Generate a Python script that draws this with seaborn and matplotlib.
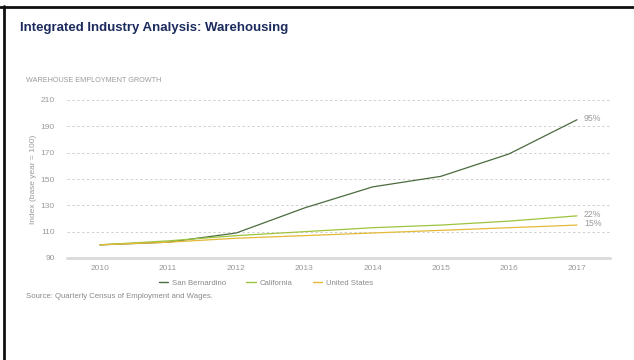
import numpy as np
import pandas as pd
import matplotlib
matplotlib.use("Agg")
import matplotlib.pyplot as plt
import seaborn as sns
from matplotlib.lines import Line2D

years = [2010, 2011, 2012, 2013, 2014, 2015, 2016, 2017]
san_bernardino = [100, 102, 109, 128, 144, 152, 169, 195]
california = [100, 103, 107, 110, 113, 115, 118, 122]
united_states = [100, 102, 105, 107, 109, 111, 113, 115]
series_names = ["San Bernardino", "California", "United States"]
end_labels = ["95%", "22%", "15%"]
y_ticks = [90, 110, 130, 150, 170, 190, 210]

colors = ["#4b6b3f", "#9dc43c", "#e3b935"]
grey_text = "#9a9a9a"

df = pd.DataFrame({
    "year": years * 3,
    "value": san_bernardino + california + united_states,
    "series": sum([[n] * len(years) for n in series_names], []),
})

sns.set_theme(style="white")
plt.rcParams["font.family"] = ["Liberation Sans", "DejaVu Sans"]

fig = plt.figure(figsize=(6.34, 3.6), dpi=100)
ax = fig.add_axes([67 / 634, 1 - 258 / 360, (610 - 67) / 634, (258 - 100) / 360])

sns.lineplot(data=df, x="year", y="value", hue="series", hue_order=series_names,
             palette=colors, linewidth=0.9, ax=ax, legend=False)

ax.set_xlim(2009.516, 2017.484)
ax.set_ylim(90, 210)
ax.set_yticks(y_ticks)
ax.set_xticks(years)
ax.set_xticklabels([str(y) for y in years])
for v in y_ticks[1:]:
    ax.axhline(v, color="#d0d0d0", linewidth=0.7, linestyle=(0, (2.5, 2.5)), zorder=0)
ax.axhline(90, color="#dcdcdc", linewidth=2.2, zorder=0, clip_on=False)
for s in ax.spines.values():
    s.set_visible(False)
ax.tick_params(axis="both", length=0, labelsize=6, colors=grey_text)
ax.tick_params(axis="y", pad=9)
ax.tick_params(axis="x", pad=5)
ax.set_xlabel("")
ax.set_ylabel("Index (base year = 100)", fontsize=6, color=grey_text, labelpad=2)

finals = [san_bernardino[-1], california[-1], united_states[-1]]
for val, lab in zip(finals, end_labels):
    ax.annotate(lab, xy=(years[-1], val), xytext=(5, 1), textcoords="offset points",
                fontsize=6.3, color=grey_text, va="center", ha="left")

handles = [Line2D([0], [0], color=c, linewidth=1.0) for c in colors]
fig.legend(handles, series_names, loc="center", bbox_to_anchor=(266 / 634, 1 - 283 / 360),
           ncol=3, frameon=False, fontsize=5.6, labelcolor="#8a8a8a",
           handlelength=1.2, handletextpad=0.5, columnspacing=2.6)

fig.text(20 / 634, 1 - 28 / 360, "Integrated Industry Analysis: Warehousing",
         fontsize=9.5, fontweight="bold", color="#1c2b5e", va="center", ha="left")
fig.text(26 / 634, 1 - 80 / 360, "WAREHOUSE EMPLOYMENT GROWTH",
         fontsize=5.2, color=grey_text, va="center", ha="left")
fig.text(26 / 634, 1 - 297 / 360, "Source: Quarterly Census of Employment and Wages.",
         fontsize=5.6, color="#8a8a8a", va="center", ha="left")

# frame edges along the top and left of the page
fig.add_artist(Line2D([0, 1], [1 - 7 / 360, 1 - 7 / 360], transform=fig.transFigure,
                      color="#111111", linewidth=2.0))
fig.add_artist(Line2D([4 / 634, 4 / 634], [0, 1 - 6 / 360], transform=fig.transFigure,
                      color="#111111", linewidth=2.0))

fig.savefig("out.png", dpi=100, facecolor="white")
